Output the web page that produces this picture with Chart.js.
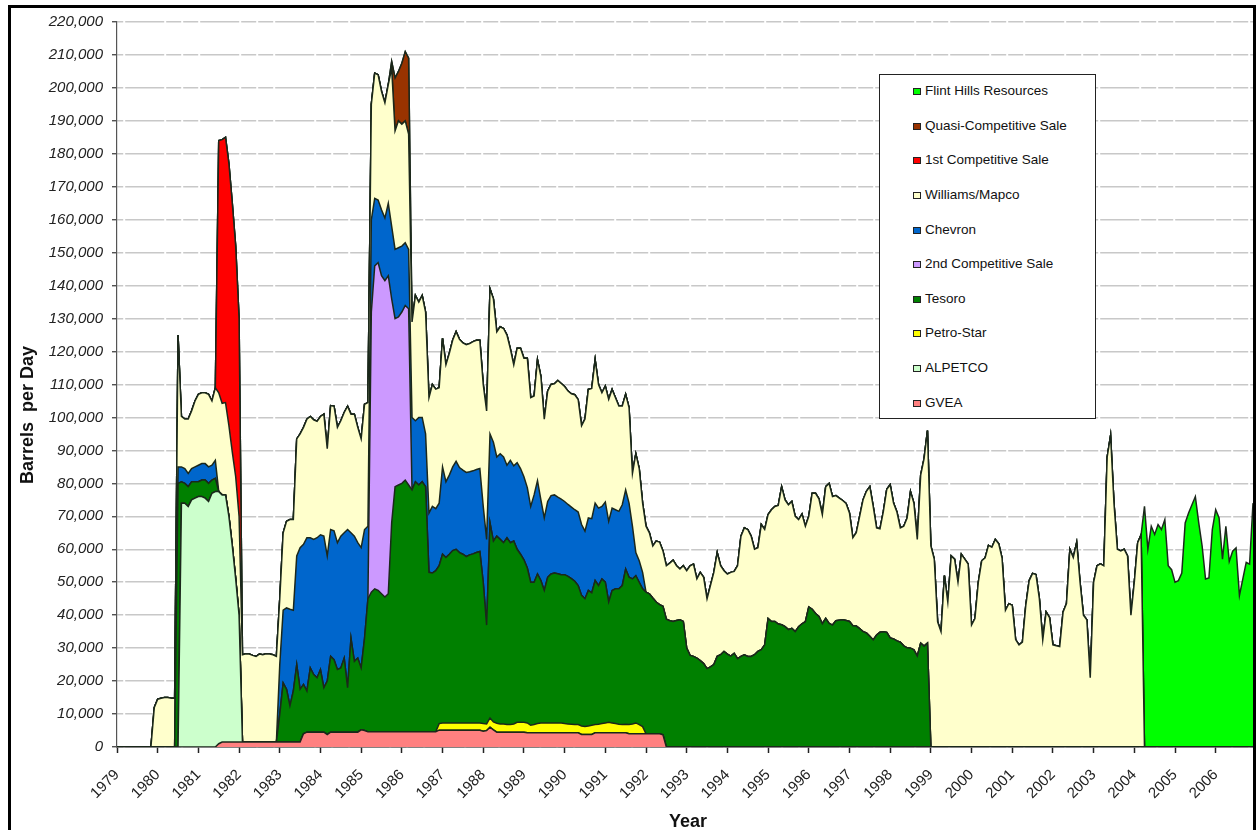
<!DOCTYPE html>
<html>
<head>
<meta charset="utf-8">
<script src="https://cdn.jsdelivr.net/npm/chart.js@4.4.0/dist/chart.umd.min.js"></script>
<style>
  html, body { margin: 0; padding: 0; background: #fff; }
  #wrap { position: relative; width: 1256px; height: 830px; overflow: hidden;
          font-family: "Liberation Sans", Arial, sans-serif; }
  #chart { position: absolute; left: 0; top: 0; }
  #frame { position: absolute; left: 8px; top: 5px; width: 1248px; height: 900px;
           border: 3px solid #000; border-bottom: none; box-sizing: border-box; pointer-events: none; }
  #legend { position: absolute; left: 879px; top: 74px; width: 217px; height: 345px;
            border: 1px solid #222; background: #fff; box-sizing: border-box; }
  .item { position: absolute; left: 33px; height: 16px; line-height: 16px;
          font-size: 13.5px; color: #111; white-space: nowrap; }
  .sw { display: inline-block; width: 8px; height: 7px; border: 1px solid #222;
        box-sizing: border-box; margin-right: 4px; vertical-align: 0px; }
  .axtitle { position: absolute; width: 220px; height: 22px; line-height: 22px; text-align: center;
             font-weight: bold; font-size: 18px; color: #111; }
</style>
</head>
<body>
<div id="wrap">
  <canvas id="chart" width="1256" height="830"></canvas>
  <div id="legend"></div>
  <div class="axtitle" id="ytitle" style="left:-83px;top:404px;transform:rotate(-90deg);">Barrels&nbsp; per Day</div>
  <div class="axtitle" style="left:578px;top:810px;">Year</div>
  <div id="frame"></div>
</div>
<script>
// monthly data, Jan 1979 (month 0) .. Dec 2006 (month 335), thousand barrels per day
const MONTHS = 336;
const years = [1979, 1980, 1981, 1982, 1983, 1984, 1985, 1986, 1987, 1988, 1989, 1990, 1991, 1992,
  1993, 1994, 1995, 1996, 1997, 1998, 1999, 2000, 2001, 2002, 2003, 2004, 2005, 2006];

// each series: first month index + values from there on
const gveaStart = 30;
const gvea = [1,
  1.5, 1.5, 1.5, 1.5, 1.5, 1.5, 1.5, 1.5, 1.5, 1.5, 1.5, 1.5, 1.5, 1.5, 1.5, 1.5, 1.5, 1.5, 1.5, 1.5, 1.5, 1.5, 1.5, 1.5,
  4, 4.5, 4.5, 4.5, 4.5, 4.5, 4.5, 3.8, 4.5, 4.5, 4.5, 4.5, 4.5, 4.5, 4.5, 4.5, 4.5, 5.2, 5,
  4.6, 4.6, 4.6, 4.6, 4.6, 4.6, 4.6, 4.6, 4.6, 4.6, 4.6, 4.6, 4.6, 4.6, 4.6, 4.6, 4.6, 4.6, 4.6, 4.6, 4.6,
  5.1, 5.1, 5.1, 5.1, 5.1, 5.1, 5.1, 5.1, 5.1, 5.1, 5.1, 5.1, 5.1, 4.8, 5, 6, 5.2,
  4.5, 4.5, 4.5, 4.5, 4.5, 4.5, 4.5, 4.5, 4.5,
  4.3, 4.3, 4.3, 4.3, 4.3, 4.3, 4.3, 4.3, 4.3, 4.3, 4.3, 4.3, 4.3, 4.3, 4.3, 4.3,
  3.8, 3.8, 3.8, 3.8, 4.3, 4.3, 4.3, 4.3, 4.3, 4.3, 4.3, 4.3, 4.3, 4.3,
  4, 4, 4, 4, 4, 4, 4, 4, 4, 4, 3.7];

const alpetcoStart = 19;
const alpetco = [74, 74, 73, 75, 75.5, 76, 76, 75.5, 74.5, 77, 77.5, 76.5, 75, 75, 68.5, 59.5, 49.5, 38.5];

const petroStarStart = 95;
const petroStar = [2, 2.2, 2.2, 2.2, 2.2, 2.2, 2.2, 2.2, 2.2, 2.2, 2.2, 2.2, 2.2, 2.3, 2, 2.8, 2.4, 2.7, 2.5, 2.5,
  2.3, 2.3, 2.5, 3, 3, 3, 3, 2.3, 2.5, 2.8, 3, 3, 3, 3, 3, 3, 3, 2.8, 2.7, 2.6, 2.5, 2.5, 2.6, 2.4, 2.6, 2.8,
  2.5, 2.6, 2.8, 3, 3.2, 3, 2.8, 2.6, 2.5, 2.6, 2.8, 3, 3.3, 2.8, 2.2];

const tesoroStart = 18;
const tesoro = [80, 6.5, 6, 6, 5.5, 5, 4.5, 5, 5.5, 5.5, 4, 4,
  0, 0, 0, 0, 0, 0, 0, 0, 0, 0, 0, 0, 0, 0, 0, 0, 0, 0,
  8.5, 17.9, 16, 11, 15.5, 23.5, 16, 15, 12.5, 19.5, 17.5, 16.5, 19, 13.5, 16.2, 23, 22, 19, 19.5, 22.5,
  13.5, 28.5, 21.5, 22.5, 18.8, 28, 40.4,
  42.4, 43.4, 42.9, 41.9, 40.9, 41.9, 63.4, 74.4, 74.9, 75.4, 76.4, 74.9, 73.4, 75.9, 74.9, 75.9, 74.4, 48.4, 48.2, 48.9,
  47.9, 51.2, 50.2, 51.2, 52.3, 52.7, 51.7, 51.2, 50.5, 51, 51.3, 51.7, 52, 42.9, 30, 59.2, 54.9, 56.8, 56, 55,
  56.7, 55.2, 55.5, 52.5, 51, 49.3, 47, 43.4, 43.2, 45.4, 43.2, 40.2, 44.2, 45.2, 45.5, 45.3, 45, 45.2, 44.8, 44.2,
  43.5, 42.2, 39.6, 38.8, 41.1, 40.2, 43.7, 42.1, 43.9, 42.7, 36.5, 40.2, 40.9, 41.1, 42.2, 47.1, 44.7, 44, 44.7, 43.2, 41.8,
  43, 42.5, 41.2, 40, 39.2, 39, 38.8, 38.3, 38.1, 38.4, 38.6, 38.1, 30, 27.8, 27.5, 27, 26.2, 25.3, 23.8, 24.3,
  25, 27.5, 28, 29, 28.2, 27.6, 28.4, 26.8, 27.5, 28, 27.5, 27.5, 28, 29, 29.5, 31, 39, 38.1, 38.1, 37.3,
  37.1, 36.5, 35.6, 36, 35, 36.5, 37.4, 38, 42.5, 41.8, 40.5, 39.6, 37.4, 39, 37.5, 37, 38.3, 38.5, 38.6, 38.4,
  38.1, 36.8, 36.7, 35.9, 35, 34.6, 33.6, 32.5, 34, 34.8, 35, 34.8, 33.1, 32.8, 32.2, 31.8, 30.7, 30.1, 30, 29.5,
  27.6, 31.5, 30.6, 31.5];

const secondSaleStart = 75;
const secondSale = [85, 98, 99.5, 96.5, 96, 96.5, 68, 51, 51, 52, 53, 53.5];

const chevronStart = 18;
const chevron = [5, 4.5, 4.5, 4, 4, 4.5, 5, 5, 5, 5, 4.5, 5.5,
  0, 0, 0, 0, 0, 0, 0, 0, 0, 0, 0, 0, 0, 0, 0, 0, 0, 0,
  15, 22.1, 24.7, 29.3, 24.5, 33, 43, 42.5, 46.5, 39.5, 41, 42.5, 40.9, 46, 38, 38.5, 39.1, 38.5, 40, 38,
  48, 32, 38, 35, 36.5, 33, 22,
  28, 20.5, 19, 20, 19, 22, 22, 21, 21, 20, 19, 18, 22, 18.5, 20.5, 19.5, 16, 18, 20.2, 18.8,
  19, 26.5, 23, 24, 25.4, 26.7, 25.8, 25.5, 25.5, 25.2, 25.2, 25.2, 25.2, 23, 26, 27, 30, 24, 26, 26,
  22, 25, 22.8, 26.3, 26, 25.2, 24.4, 23, 26.5, 28.3, 24.5, 22, 23, 23.8, 23.7, 23.2, 22.9, 22.2, 21.8, 21.7,
  21.7, 22.3, 21.5, 20.5, 22, 22.5, 23.5, 23.5, 22, 24.3, 24.5, 25, 24, 23.5, 24.5, 24, 22.5, 16, 7, 6.5, 5];

const williamsStart = 11;
const williams = [12, 14.5, 14.8, 15, 15, 14.8, 14.8, 40,
  15.3, 15, 16.5, 17.5, 20, 21.5, 21.5, 21.5, 22, 19.5, 22,
  30, 27.8, 28, 27.5, 28.5, 31, 30,
  26.5, 26.8, 26.7, 26.3, 26, 26.7, 26.5, 26.8, 26.7, 26.5, 26,
  20, 23.5, 26.3, 27.2, 27.5, 35.5, 34.5, 35.5, 36, 36.8, 36.3, 35.3, 35.9, 37, 32.5, 37.6, 37.8, 35, 35, 36.5,
  37.4, 36, 37, 35, 33, 38, 37.5,
  35, 38, 38, 36, 35, 36, 48, 36, 38.5, 37, 37, 35, 29, 38, 35, 37, 37, 35, 37, 36.3,
  35, 39, 35.5, 37, 38.5, 39.3, 38.9, 38.6, 38.8, 38.9, 39.2, 39.2, 38.9, 37, 39, 44, 43.5, 38, 38.5, 39,
  39.5, 33.8, 30.7, 34.7, 36.5, 36, 39.3, 33, 30, 36.7, 37.5, 30, 33.5, 33.7, 33.7, 35.4, 35.1, 34.9, 34.4, 34.4,
  34.9, 34.1, 30, 34, 39, 39.5, 43.5, 37.5, 34.5, 35.2, 37, 36, 34, 32, 30, 29, 29, 16, 30, 28, 21,
  20, 18.5, 15.8, 18.5, 19, 16.8, 16.2, 17.5, 18.6, 16.6, 15.4, 16.9, 23.5, 27.2, 28, 24, 26.8, 26.2, 21.2, 24.7,
  28, 31.5, 27, 24.5, 24.3, 25.4, 24.9, 28.2, 36.5, 38.5, 38.5, 36.5, 32, 31.5, 38, 35, 31.5, 33.9, 34.9, 36,
  41.9, 38.5, 37.9, 38.5, 35, 32.5, 33.3, 29, 27.5, 35.2, 36.5, 35.7, 33.1, 40, 42.5, 39, 38, 37, 36.2, 35.5,
  32.9, 26.7, 28.3, 34.1, 40, 43, 45.4, 40.5, 32.5, 31.4, 36.5, 43.4, 46.5, 41.2, 39.1, 34.7, 36.3, 39.4, 47.5, 44.5,
  35.4, 51, 56.9, 64.5,
  61, 57, 38, 35, 52, 44, 58, 57, 50, 58.5, 57, 55.5, 37, 39, 50, 56.5, 57.4, 61.2, 60.6, 63,
  61.7, 57.3, 41.5, 43.5, 43, 32.6, 31, 31.8, 43, 50.5, 52.7, 52.3, 45, 32.5, 41, 39.3, 31, 30.7, 30.5, 41,
  43.5, 60, 57.5, 62, 50, 40, 38.6, 21, 50, 55, 55.6, 55, 88, 94.5, 74, 60, 59.5, 60, 58, 40, 50, 62, 64.4];

const firstSaleStart = 30;
const firstSale = [76.5, 80, 80.5, 79.5, 75.5, 70, 60];

const quasiSaleStart = 81;
const quasiSale = [2, 16, 15, 18.5, 21, 23];

const flintHillsStart = 303;
const flintHills = [73, 60, 67, 64.5, 67.5, 66, 69, 55, 53.8, 50, 50.5, 52.8, 68, 71, 73.5, 76, 68, 61, 51, 51.3,
  66, 72, 69.5, 57, 67, 56.3, 59.4, 60.4, 46, 51, 56, 55.5, 74];

function pad(start, values) {
  const out = new Array(MONTHS).fill(0);
  values.forEach((v, i) => { out[start + i] = v; });
  return out.map((v, i) => ({ x: i, y: v * 1000 }));
}

const OUTLINE = "#1b281b";
const FONT = "'Liberation Sans', Arial, sans-serif";

// bottom of the stack first
const series = [
  { label: "GVEA", data: pad(gveaStart, gvea), color: "#ff8080" },
  { label: "ALPETCO", data: pad(alpetcoStart, alpetco), color: "#ccffcc" },
  { label: "Petro-Star", data: pad(petroStarStart, petroStar), color: "#ffff00" },
  { label: "Tesoro", data: pad(tesoroStart, tesoro), color: "#008000" },
  { label: "2nd Competitive Sale", data: pad(secondSaleStart, secondSale), color: "#cc99ff" },
  { label: "Chevron", data: pad(chevronStart, chevron), color: "#0066cc" },
  { label: "Williams/Mapco", data: pad(williamsStart, williams), color: "#ffffcc" },
  { label: "1st Competitive Sale", data: pad(firstSaleStart, firstSale), color: "#ff0000" },
  { label: "Quasi-Competitive Sale", data: pad(quasiSaleStart, quasiSale), color: "#993300" },
  { label: "Flint Hills Resources", data: pad(flintHillsStart, flintHills), color: "#00ff00" },
];

const datasets = series.map((s, i) => ({
  label: s.label,
  data: s.data,
  backgroundColor: s.color,
  borderColor: OUTLINE,
  borderWidth: 1.5,
  fill: i === 0 ? "origin" : "-1",
  pointRadius: 0,
  tension: 0,
}));

new Chart(document.getElementById("chart").getContext("2d"), {
  type: "line",
  data: { datasets },
  options: {
    responsive: false,
    animation: false,
    layout: { padding: { left: 0, right: 3, top: 22, bottom: 0 } },
    plugins: { legend: { display: false }, tooltip: { enabled: false } },
    scales: {
      x: {
        type: "linear",
        min: 0,
        max: MONTHS - 1,
        afterFit: (s) => { s.height = 83; },
        grid: { drawOnChartArea: false, tickLength: 6, tickColor: "#222", tickWidth: 1.5 },
        border: { color: "#222", width: 1.5 },
        ticks: {
          stepSize: 12,
          includeBounds: false,
          autoSkip: false,
          minRotation: 45,
          maxRotation: 45,
          padding: 13,
          color: "#222",
          font: { family: FONT, size: 15 },
          callback: (v) => years[v / 12],
        },
      },
      y: {
        stacked: true,
        min: 0,
        max: 220000,
        afterFit: (s) => { s.width = 117; },
        grid: { color: "#c8c8c8", lineWidth: 1.5, tickLength: 5, tickColor: "#333", tickWidth: 1.2 },
        border: { color: "#555", width: 1.2, dash: [39, 2, 15, 2, 15, 2], dashOffset: 67 },
        ticks: {
          stepSize: 10000,
          padding: 9,
          color: "#222",
          font: { family: FONT, size: 15, style: "italic" },
          callback: (v) => v.toLocaleString("en-US"),
        },
      },
    },
  },
});

// legend box inside the plot, top series first
const legendEl = document.getElementById("legend");
const legendTops = [91, 125.7, 160.3, 195, 229.6, 264.2, 298.8, 333.4, 368, 402.6];
series.slice().reverse().forEach((s, i) => {
  const div = document.createElement("div");
  div.className = "item";
  div.style.top = (legendTops[i] - 74 - 9) + "px";
  div.innerHTML = '<span class="sw" style="background:' + s.color + '"></span>' + s.label;
  legendEl.appendChild(div);
});
</script>
</body>
</html>
